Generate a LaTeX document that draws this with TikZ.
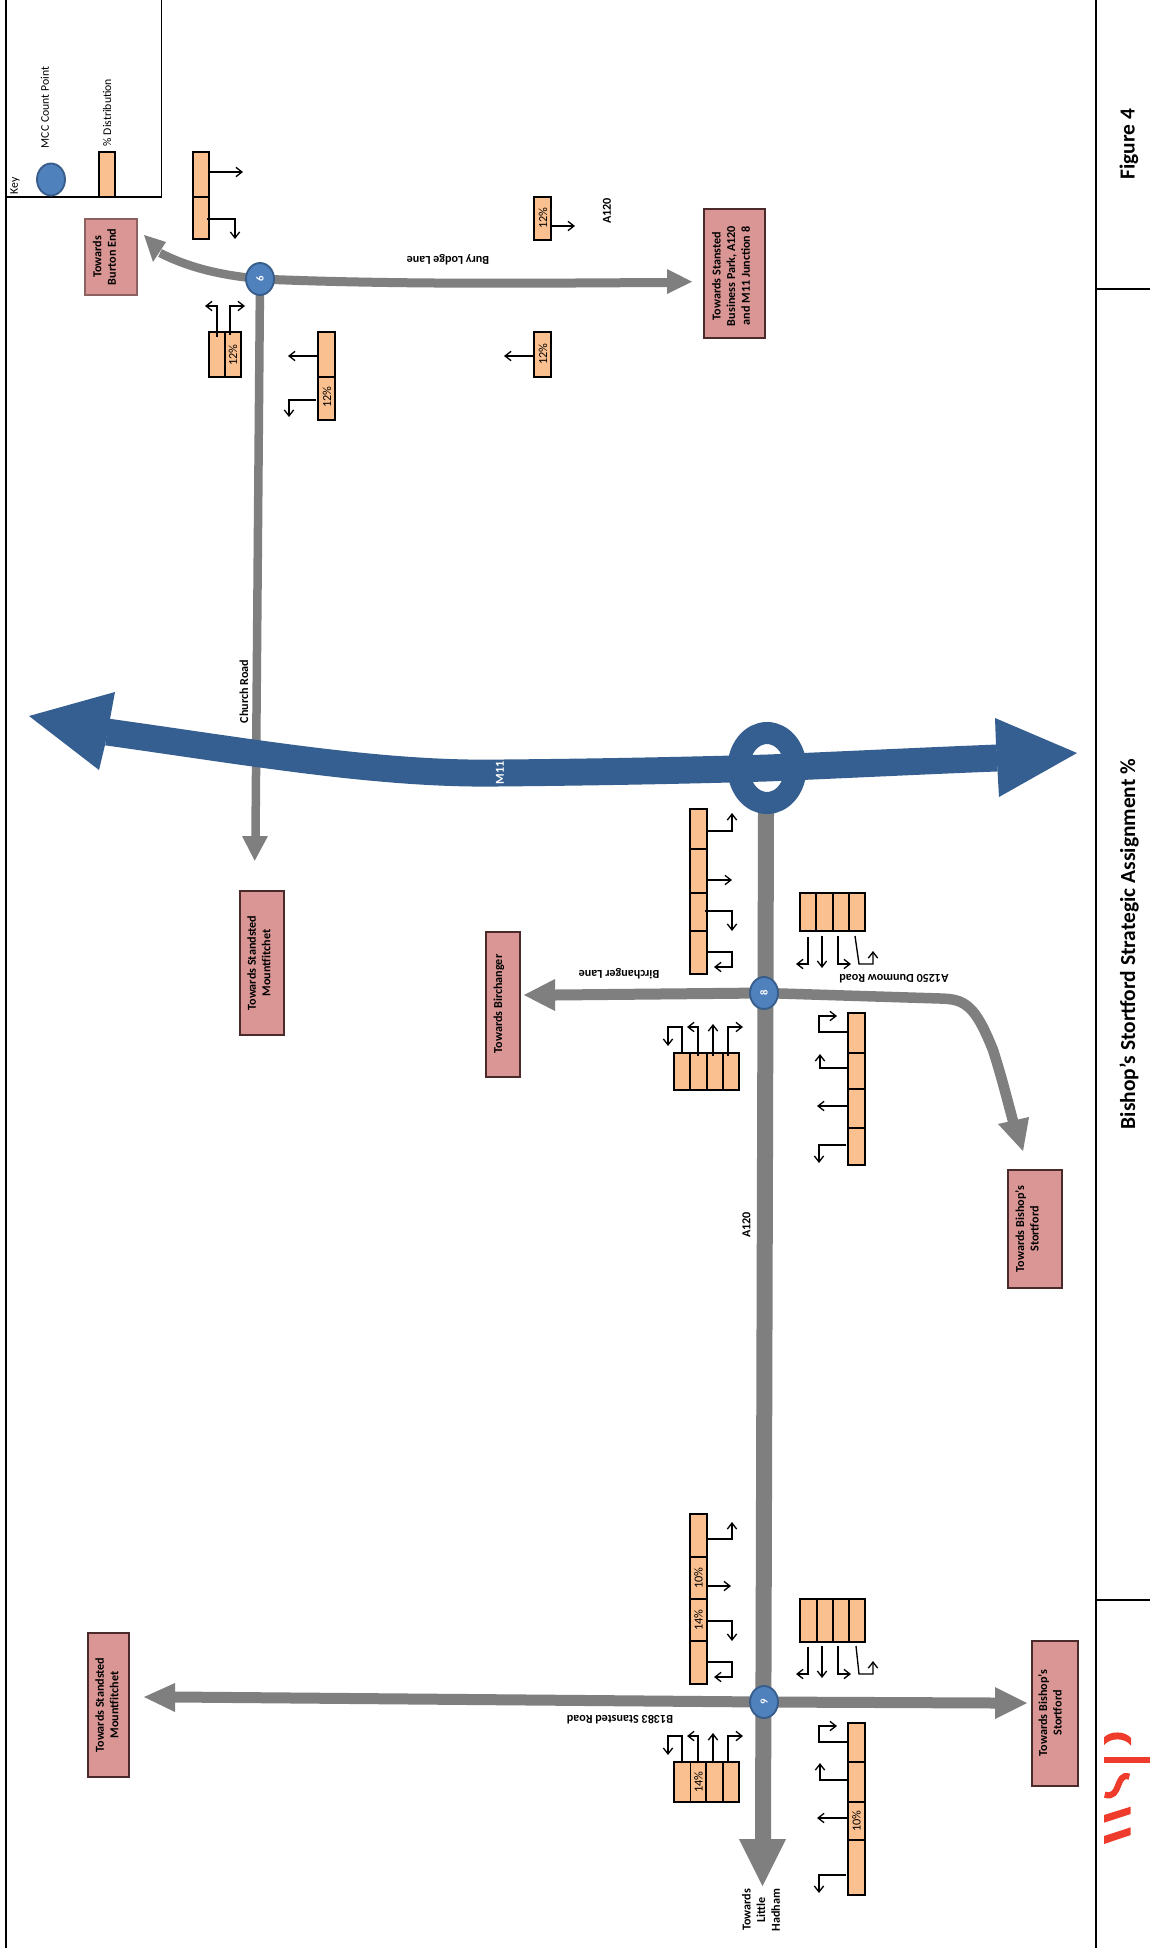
\documentclass[tikz,border=0pt]{standalone}
\usepackage{fontspec}
\setmainfont{Carlito}
\usetikzlibrary{arrows.meta,shapes.geometric}
\definecolor{roadgrey}{HTML}{7F7F7F}
\definecolor{mblue}{HTML}{365F91}
\definecolor{jfill}{HTML}{4F81BD}
\definecolor{jedge}{HTML}{385D8A}
\definecolor{barfill}{HTML}{FAC090}
\definecolor{destfill}{HTML}{D99694}
\definecolor{destedge}{HTML}{4A2A2A}
\definecolor{wspred}{HTML}{EF3B2C}
\tikzset{
  frameline/.style={black,line width=1.3pt},
  road/.style={roadgrey,line width=#1*0.75pt,line cap=butt},
  head/.style={fill=roadgrey,draw=none},
  bluehead/.style={fill=mblue,draw=none},
  motorway/.style={mblue,line width=20.2pt},
  junction/.style={ellipse,fill=jfill,draw=jedge,line width=1.4pt,inner sep=0pt,minimum width=24pt,minimum height=21pt,text=white,font=\fontsize{8}{9}\selectfont\bfseries,rotate=90},
  cellbox/.style={fill=barfill,draw=black,line width=1.1pt},
  destbox/.style={fill=destfill,draw=destedge,line width=0.8pt},
  turn/.style={black,line width=1pt,-{Straight Barb[length=4.5pt,width=7pt,line width=1pt]}},
  bold/.style={font=\fontsize{9.1}{10.9}\selectfont\bfseries,inner sep=0pt,align=center},
  plain/.style={font=\fontsize{8.8}{10.8}\selectfont,inner sep=0pt,align=center},
  pct/.style={font=\fontsize{9.2}{10}\selectfont,inner sep=0pt,rotate=90},
}
\newcommand{\cellat}[4]{\draw[cellbox] (#1,#2) rectangle (#3,#4);}
\begin{document}
\begin{tikzpicture}[x=0.75pt,y=-0.75pt]
\useasboundingbox (0,0) rectangle (1150,1948);
\fill[white] (0,0) rectangle (1150,1948);
% frame
\draw[frameline] (6,0) -- (6,1948);
\draw[frameline,line width=1.1pt] (1096,0) -- (1096,1948);
\draw[frameline,line width=1.1pt] (1096,289) -- (1150,289);
\draw[frameline,line width=1.1pt] (1096,1600) -- (1150,1600);
% key
\draw[frameline,line width=1.1pt] (161.5,0) -- (161.5,197) -- (6,197);
\node[plain,rotate=90] (keylabel) at (15,186) {Key};
\node[junction] (keyc) at (51,179.5) {};
\node[plain,rotate=90] (keymcc) at (45,107.5) {MCC Count Point};
\cellat{99}{152}{115}{197}
\node[plain,rotate=90] (keypct) at (107,112.5) {\% Distribution};
% junction centres
\coordinate (c6) at (260,279);
\coordinate (c8) at (764,993);
\coordinate (c9) at (764,1702);
% road from junction 6
\coordinate (e6r) at (667,282.5);
\draw[road=9] (c6) .. controls (400,285) and (550,283) .. (e6r);
\fill[head] (667,269) -- (692,281.7) -- (667,294) -- cycle;
\coordinate (e6l) at (160,253);
\draw[road=8.5] (c6) .. controls (220,275) and (190,268) .. (e6l);
\fill[head] (144,235) -- (166,242) -- (153,262) -- cycle;
\coordinate (e6d) at (255.5,837);
\draw[road=8.5] (c6) -- (e6d);
\fill[head] (242,836) -- (268,836) -- (254.7,860.7) -- cycle;
% main road
\coordinate (topA) at (766,812);
\coordinate (e9d) at (763,1840);
\draw[road=16] (topA) -- (e9d);
\fill[head] (739,1839) -- (786,1839) -- (762.5,1886) -- cycle;
% Birchanger
\coordinate (e8l) at (555,995);
\draw[road=11] (c8) -- (e8l);
\fill[head] (555,979) -- (555,1011) -- (524,995) -- cycle;
% Dunmow
\coordinate (e8r) at (1013,1121);
\draw[road=10.5] (c8) -- (940,998.5) .. controls (965,999) and (975,1005) .. (993,1050) .. controls (1001,1075) and (1006,1095) .. (e8r);
\fill[head] (1029,1117) -- (998,1124) -- (1023,1151) -- cycle;
% junction 9 roads
\coordinate (e9r) at (995,1703);
\draw[road=11] (c9) -- (e9r);
\fill[head] (995,1687) -- (995,1719) -- (1027,1703) -- cycle;
\coordinate (e9l) at (175,1697);
\draw[road=11] (c9) -- (e9l);
\fill[head] (175,1683) -- (175,1712) -- (144,1697) -- cycle;
% M11
\draw[mblue,line width=16.5pt] (767,768) ellipse [x radius=28.5,y radius=35];
\coordinate (ml) at (107,732);
\coordinate (mr) at (997,758);
\draw[motorway] (ml) .. controls (250,752) and (380,775) .. (500,773) .. controls (610,772) and (700,770) .. (767,768) .. controls (840,765) and (920,761) .. (mr);
\fill[bluehead] (115,692) -- (29,716) -- (99,770) -- (105,745) -- (110,719) -- cycle;
\fill[bluehead] (995,718) -- (1077,753) -- (999,797) -- (997.5,771) -- (996,745) -- cycle;
% junction circles
\node[junction] (j6) at (c6) {6};
\node[junction] (j8) at (c8) {8};
\node[junction] (j9) at (c9) {9};
% destination boxes
\draw[destbox,draw=destfill!65!black] (85,219) rectangle (137,295);
\node[bold,rotate=90] (dBurton) at (104.5,257) {Towards\\Burton End};
\draw[destbox] (704,209) rectangle (765,338);
\node[bold,rotate=90] (dPark) at (731,276) {Towards Stansted\\Business Park, A120\\and M11 Junction 8};
\draw[destbox] (240,891) rectangle (284,1035);
\node[bold,rotate=90] (dMount) at (259,963) {Towards Standsted\\Mountfitchet};
\draw[destbox] (486,932) rectangle (520,1077);
\node[bold,rotate=90] (dBirch) at (499,1004) {Towards Birchanger};
\draw[destbox] (1008,1170) rectangle (1062,1288);
\node[bold,rotate=90] (dBish) at (1027,1229) {Towards Bishop's\\Stortford};
\draw[destbox] (1032,1641) rectangle (1078,1786);
\node[bold,rotate=90] (dBishB) at (1050,1713) {Towards Bishop's\\Stortford};
\draw[destbox] (88,1633) rectangle (129,1777);
\node[bold,rotate=90] (dMountB) at (107,1705) {Towards Standsted\\Mountfitchet};
\node[bold,rotate=90] (dHadham) at (761,1910) {Towards\\Little\\Hadham};
% road labels
\node[bold,rotate=180] (lBury) at (448,259.5) {Bury Lodge Lane};
\node[bold,rotate=90] (lA120a) at (607,211) {A120};
\node[bold,rotate=90] (lChurch) at (244,691.5) {Church Road};
\node[bold,rotate=90,text=white] (lM11) at (500,773) {M11};
\node[bold,rotate=180] (lBirch) at (619,974) {Birchanger Lane};
\node[bold,rotate=180] (lDun) at (894,979) {A1250 Dunmow Road};
\node[bold,rotate=90] (lA120b) at (746.5,1225) {A120};
\node[bold,rotate=180] (lB1383) at (620,1720) {B1383 Stansted Road};
% title
\node[font=\fontsize{16.1}{18}\selectfont\bfseries,rotate=90,inner sep=0pt] (title) at (1129,944) {Bishop's Stortford Strategic Assignment \%};
\node[font=\fontsize{16.1}{18}\selectfont\bfseries,rotate=90,inner sep=0pt] (figno) at (1129,144) {Figure 4};
% logo
\begin{scope}[shift={(1090,1710)},x=0.25pt,y=-0.25pt]
\fill[wspred] (42,82) .. controls (60,62) and (105,62) .. (123,84) -- (123,107) .. controls (105,82) and (62,82) .. (42,105) -- cycle;
\fill[wspred] (42,141) rectangle (180,160);
\draw[wspred,line width=4.6pt] (118,200) .. controls (75,185) and (95,270) .. (44,254);
\fill[wspred] (42,315) -- (122,290) -- (122,312) -- (42,338) -- cycle;
\fill[wspred] (42,378) -- (122,352) -- (122,375) -- (42,402) -- cycle;
\end{scope}
% bars near junction 6
\cellat{193}{152}{209}{197}\cellat{193}{197}{209}{239}
\draw[turn] (209,172) -- (243,172);
\draw[turn] (207,219) -- (235,219) -- (235,239);
\cellat{209}{332}{225}{377}\cellat{225}{332}{241}{377}
\node[pct] (p1) at (233,355) {12\%};
\draw[turn] (217,337) -- (217,306) -- (205,306);
\draw[turn] (230,335) -- (230,306) -- (245,306);
\cellat{318}{332}{335}{377}\cellat{318}{377}{335}{420}
\node[pct] (p2) at (327,397) {12\%};
\draw[turn] (318,356) -- (288,356);
\draw[turn] (316,400) -- (289,400) -- (289,417);
\cellat{534}{197}{551}{240}
\node[pct] (p3) at (543,218) {12\%};
\draw[turn] (551,226) -- (575,226);
\cellat{534}{332}{551}{377}
\node[pct] (p4) at (543,354) {12\%};
\draw[turn] (533,356) -- (504,356);
% bars near junction 8
\cellat{690}{809}{707}{849}\cellat{690}{849}{707}{893}\cellat{690}{893}{707}{931}\cellat{690}{931}{707}{974}
\draw[turn] (706,831) -- (732,831) -- (732,813);
\draw[turn] (706,880) -- (732,880);
\draw[turn] (705,911) -- (732,911) -- (732,931);
\draw[turn] (706,952) -- (732,952) -- (732,967) -- (714,967);
\cellat{800}{893}{816}{931}\cellat{816}{893}{833}{931}\cellat{833}{893}{849}{931}\cellat{849}{893}{865}{931}
\draw[turn] (808,937) -- (808,964) -- (796,964);
\draw[turn] (822,936) -- (822,968);
\draw[turn] (838,936) -- (838,964) -- (851,964);
\draw[turn] (855,936) -- (859,964) -- (873,964) -- (873,951);
\cellat{848}{1013}{865}{1053}\cellat{848}{1053}{865}{1089}\cellat{848}{1089}{865}{1128}\cellat{848}{1128}{865}{1165}
\draw[turn] (848,1032) -- (819,1032) -- (819,1016) -- (837,1016);
\draw[turn] (847,1068) -- (820,1068) -- (820,1054);
\draw[turn] (847,1106) -- (817,1106);
\draw[turn] (846,1145) -- (819,1145) -- (819,1163);
\cellat{674}{1053}{690}{1090}\cellat{690}{1053}{707}{1090}\cellat{707}{1053}{723}{1090}\cellat{723}{1053}{739}{1090}
\draw[turn] (682,1053) -- (682,1027) -- (668,1027) -- (668,1046);
\draw[turn] (698,1056) -- (698,1027) -- (687,1027);
\draw[turn] (713,1056) -- (713,1024);
\draw[turn] (728,1056) -- (728,1027) -- (743,1027);
% bars near junction 9
\cellat{690}{1514}{707}{1557}\cellat{690}{1557}{707}{1599}\cellat{690}{1599}{707}{1641}\cellat{690}{1641}{707}{1684}
\node[pct] (p5) at (698.5,1578) {10\%};
\node[pct] (p6) at (698.5,1620) {14\%};
\draw[turn] (707,1539) -- (732,1539) -- (732,1522);
\draw[turn] (707,1586) -- (731,1586);
\draw[turn] (706,1621) -- (732,1621) -- (732,1641);
\draw[turn] (707,1662) -- (732,1662) -- (732,1677) -- (714,1677);
\cellat{800}{1599}{817}{1642}\cellat{817}{1599}{833}{1642}\cellat{833}{1599}{849}{1642}\cellat{849}{1599}{865}{1642}
\draw[turn] (808,1647) -- (808,1674) -- (796,1674);
\draw[turn] (822,1646) -- (822,1678);
\draw[turn] (838,1646) -- (838,1674) -- (851,1674);
\draw[turn] (856,1646) -- (859,1674) -- (873,1674) -- (873,1661);
\cellat{674}{1762}{690.5}{1802}\cellat{690.5}{1762}{706}{1802}\cellat{706}{1762}{723}{1802}\cellat{723}{1762}{739}{1802}
\node[pct] (p7) at (698.5,1782) {14\%};
\draw[turn] (682,1763) -- (682,1736) -- (668,1736) -- (668,1755);
\draw[turn] (698,1763) -- (698,1736) -- (687,1736);
\draw[turn] (713,1763) -- (713,1733);
\draw[turn] (728,1763) -- (728,1736) -- (743,1736);
\cellat{848}{1723}{865}{1762}\cellat{848}{1762}{865}{1802}\cellat{848}{1802}{865}{1840}\cellat{848}{1840}{865}{1895}
\node[pct] (p8) at (856.5,1821) {10\%};
\draw[turn] (848,1742) -- (819,1742) -- (819,1726) -- (837,1726);
\draw[turn] (847,1780) -- (820,1780) -- (820,1763);
\draw[turn] (847,1818) -- (817,1818);
\draw[turn] (846,1875) -- (819,1875) -- (819,1893);
\end{tikzpicture}
\end{document}
